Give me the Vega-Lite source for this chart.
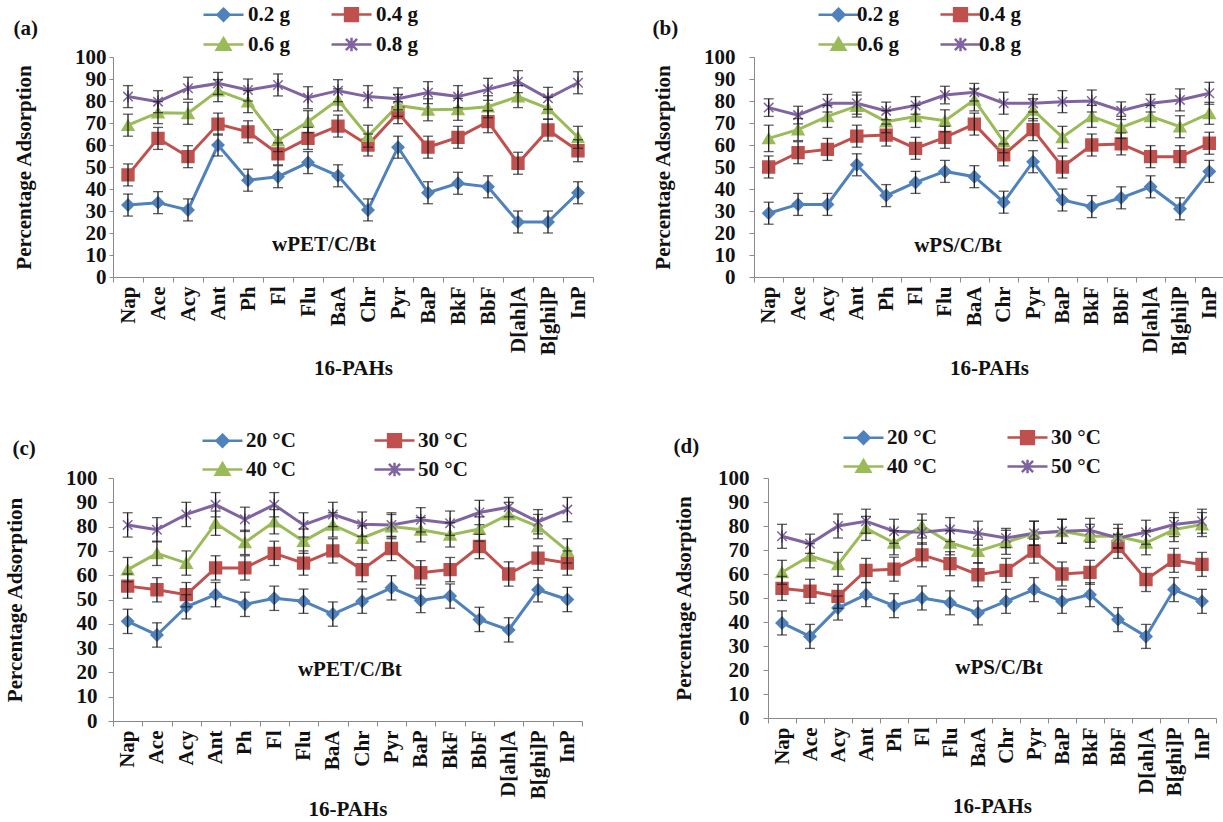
{
  "$schema": "https://vega.github.io/schema/vega-lite/v6.json",
  "padding": {"left": 4, "top": 4, "right": 0, "bottom": 0},
  "config": {
    "view": {"stroke": null},
    "axis": {"domainColor": "#8a8a8a", "tickColor": "#8a8a8a", "grid": false, "labelFont": "Liberation Serif", "labelFontWeight": "bold", "labelFontSize": 21, "labelColor": "#111", "titleFont": "Liberation Serif", "titleFontWeight": "bold", "titleFontSize": 21, "titleColor": "#111", "labelOverlap": false},
    "title": {"font": "Liberation Serif", "fontWeight": "bold", "fontSize": 21, "color": "#111", "anchor": "start", "frame": "bounds"},
    "legend": {"labelFont": "Liberation Serif", "labelFontWeight": "bold", "labelFontSize": 21, "labelColor": "#111", "symbolSize": 256, "symbolStrokeWidth": 2.5, "symbolOpacity": 1, "padding": 0}
  },
  "datasets": {
    "a": [
      {"pah":"Nap","series":"0.2 g","value":32.7,"err":5},{"pah":"Ace","series":"0.2 g","value":33.8,"err":5},{"pah":"Acy","series":"0.2 g","value":30.5,"err":5},{"pah":"Ant","series":"0.2 g","value":60,"err":5},{"pah":"Ph","series":"0.2 g","value":44,"err":5},{"pah":"Fl","series":"0.2 g","value":45.6,"err":5},{"pah":"Flu","series":"0.2 g","value":52,"err":5},{"pah":"BaA","series":"0.2 g","value":46,"err":5},{"pah":"Chr","series":"0.2 g","value":30.5,"err":5},{"pah":"Pyr","series":"0.2 g","value":59,"err":5},{"pah":"BaP","series":"0.2 g","value":38.3,"err":5},{"pah":"BkF","series":"0.2 g","value":42.6,"err":5},{"pah":"BbF","series":"0.2 g","value":41,"err":5},{"pah":"D[ah]A","series":"0.2 g","value":25,"err":5},{"pah":"B[ghi]P","series":"0.2 g","value":25,"err":5},{"pah":"InP","series":"0.2 g","value":38.3,"err":5},
      {"pah":"Nap","series":"0.4 g","value":46.4,"err":5},{"pah":"Ace","series":"0.4 g","value":63,"err":5},{"pah":"Acy","series":"0.4 g","value":54.7,"err":5},{"pah":"Ant","series":"0.4 g","value":69.5,"err":5},{"pah":"Ph","series":"0.4 g","value":66,"err":5},{"pah":"Fl","series":"0.4 g","value":56,"err":5},{"pah":"Flu","series":"0.4 g","value":63,"err":5},{"pah":"BaA","series":"0.4 g","value":68.6,"err":5},{"pah":"Chr","series":"0.4 g","value":60,"err":5},{"pah":"Pyr","series":"0.4 g","value":74.7,"err":5},{"pah":"BaP","series":"0.4 g","value":59,"err":5},{"pah":"BkF","series":"0.4 g","value":63.5,"err":5},{"pah":"BbF","series":"0.4 g","value":70.6,"err":5},{"pah":"D[ah]A","series":"0.4 g","value":51.7,"err":5},{"pah":"B[ghi]P","series":"0.4 g","value":66.8,"err":5},{"pah":"InP","series":"0.4 g","value":57.4,"err":5},
      {"pah":"Nap","series":"0.6 g","value":69,"err":5},{"pah":"Ace","series":"0.6 g","value":74.7,"err":5},{"pah":"Acy","series":"0.6 g","value":74.4,"err":5},{"pah":"Ant","series":"0.6 g","value":84.7,"err":5},{"pah":"Ph","series":"0.6 g","value":79.7,"err":5},{"pah":"Fl","series":"0.6 g","value":62,"err":5},{"pah":"Flu","series":"0.6 g","value":70.6,"err":5},{"pah":"BaA","series":"0.6 g","value":80.5,"err":5},{"pah":"Chr","series":"0.6 g","value":64,"err":5},{"pah":"Pyr","series":"0.6 g","value":78,"err":5},{"pah":"BaP","series":"0.6 g","value":76,"err":5},{"pah":"BkF","series":"0.6 g","value":76.2,"err":5},{"pah":"BbF","series":"0.6 g","value":77.4,"err":5},{"pah":"D[ah]A","series":"0.6 g","value":82,"err":5},{"pah":"B[ghi]P","series":"0.6 g","value":76.7,"err":5},{"pah":"InP","series":"0.6 g","value":63.5,"err":5},
      {"pah":"Nap","series":"0.8 g","value":82,"err":5},{"pah":"Ace","series":"0.8 g","value":79.7,"err":5},{"pah":"Acy","series":"0.8 g","value":85.8,"err":5},{"pah":"Ant","series":"0.8 g","value":88,"err":5},{"pah":"Ph","series":"0.8 g","value":85,"err":5},{"pah":"Fl","series":"0.8 g","value":87.3,"err":5},{"pah":"Flu","series":"0.8 g","value":81.5,"err":5},{"pah":"BaA","series":"0.8 g","value":84.7,"err":5},{"pah":"Chr","series":"0.8 g","value":82,"err":5},{"pah":"Pyr","series":"0.8 g","value":81,"err":5},{"pah":"BaP","series":"0.8 g","value":83.8,"err":5},{"pah":"BkF","series":"0.8 g","value":82,"err":5},{"pah":"BbF","series":"0.8 g","value":85.3,"err":5},{"pah":"D[ah]A","series":"0.8 g","value":88.8,"err":5},{"pah":"B[ghi]P","series":"0.8 g","value":81.2,"err":5},{"pah":"InP","series":"0.8 g","value":88.3,"err":5}
    ],
    "b": [
      {"pah":"Nap","series":"0.2 g","value":29,"err":5},{"pah":"Ace","series":"0.2 g","value":33,"err":5},{"pah":"Acy","series":"0.2 g","value":33,"err":5},{"pah":"Ant","series":"0.2 g","value":51,"err":5},{"pah":"Ph","series":"0.2 g","value":37,"err":5},{"pah":"Fl","series":"0.2 g","value":43,"err":5},{"pah":"Flu","series":"0.2 g","value":48,"err":5},{"pah":"BaA","series":"0.2 g","value":45.6,"err":5},{"pah":"Chr","series":"0.2 g","value":34,"err":5},{"pah":"Pyr","series":"0.2 g","value":52.4,"err":5},{"pah":"BaP","series":"0.2 g","value":35,"err":5},{"pah":"BkF","series":"0.2 g","value":32,"err":5},{"pah":"BbF","series":"0.2 g","value":36,"err":5},{"pah":"D[ah]A","series":"0.2 g","value":41,"err":5},{"pah":"B[ghi]P","series":"0.2 g","value":31,"err":5},{"pah":"InP","series":"0.2 g","value":48,"err":5},
      {"pah":"Nap","series":"0.4 g","value":50,"err":5},{"pah":"Ace","series":"0.4 g","value":56.5,"err":5},{"pah":"Acy","series":"0.4 g","value":58,"err":5},{"pah":"Ant","series":"0.4 g","value":64,"err":5},{"pah":"Ph","series":"0.4 g","value":64.5,"err":5},{"pah":"Fl","series":"0.4 g","value":58.5,"err":5},{"pah":"Flu","series":"0.4 g","value":63.5,"err":5},{"pah":"BaA","series":"0.4 g","value":69.5,"err":5},{"pah":"Chr","series":"0.4 g","value":55.5,"err":5},{"pah":"Pyr","series":"0.4 g","value":67,"err":5},{"pah":"BaP","series":"0.4 g","value":50,"err":5},{"pah":"BkF","series":"0.4 g","value":60,"err":5},{"pah":"BbF","series":"0.4 g","value":60.5,"err":5},{"pah":"D[ah]A","series":"0.4 g","value":54.7,"err":5},{"pah":"B[ghi]P","series":"0.4 g","value":54.7,"err":5},{"pah":"InP","series":"0.4 g","value":60.8,"err":5},
      {"pah":"Nap","series":"0.6 g","value":63,"err":6},{"pah":"Ace","series":"0.6 g","value":67,"err":5},{"pah":"Acy","series":"0.6 g","value":73,"err":5},{"pah":"Ant","series":"0.6 g","value":77.7,"err":5},{"pah":"Ph","series":"0.6 g","value":70.6,"err":5},{"pah":"Fl","series":"0.6 g","value":73,"err":5},{"pah":"Flu","series":"0.6 g","value":71,"err":5},{"pah":"BaA","series":"0.6 g","value":80.5,"err":5},{"pah":"Chr","series":"0.6 g","value":61.5,"err":5},{"pah":"Pyr","series":"0.6 g","value":76,"err":5},{"pah":"BaP","series":"0.6 g","value":63.5,"err":5},{"pah":"BkF","series":"0.6 g","value":73,"err":5},{"pah":"BbF","series":"0.6 g","value":68,"err":5},{"pah":"D[ah]A","series":"0.6 g","value":73,"err":5},{"pah":"B[ghi]P","series":"0.6 g","value":68.3,"err":5},{"pah":"InP","series":"0.6 g","value":74.4,"err":5},
      {"pah":"Nap","series":"0.8 g","value":77,"err":4},{"pah":"Ace","series":"0.8 g","value":73.6,"err":4},{"pah":"Acy","series":"0.8 g","value":79,"err":4},{"pah":"Ant","series":"0.8 g","value":79,"err":5},{"pah":"Ph","series":"0.8 g","value":75.5,"err":4},{"pah":"Fl","series":"0.8 g","value":78,"err":4},{"pah":"Flu","series":"0.8 g","value":82.7,"err":4},{"pah":"BaA","series":"0.8 g","value":84,"err":4},{"pah":"Chr","series":"0.8 g","value":79,"err":5},{"pah":"Pyr","series":"0.8 g","value":79,"err":4},{"pah":"BaP","series":"0.8 g","value":79.7,"err":5},{"pah":"BkF","series":"0.8 g","value":80,"err":5},{"pah":"BbF","series":"0.8 g","value":75.6,"err":4},{"pah":"D[ah]A","series":"0.8 g","value":79,"err":4},{"pah":"B[ghi]P","series":"0.8 g","value":80.5,"err":5},{"pah":"InP","series":"0.8 g","value":83.5,"err":5}
    ],
    "c": [
      {"pah":"Nap","series":"20 °C","value":41,"err":5},{"pah":"Ace","series":"20 °C","value":35.4,"err":5},{"pah":"Acy","series":"20 °C","value":47,"err":5},{"pah":"Ant","series":"20 °C","value":52,"err":5},{"pah":"Ph","series":"20 °C","value":48,"err":5},{"pah":"Fl","series":"20 °C","value":50.5,"err":5},{"pah":"Flu","series":"20 °C","value":49.3,"err":5},{"pah":"BaA","series":"20 °C","value":44,"err":5},{"pah":"Chr","series":"20 °C","value":49.3,"err":5},{"pah":"Pyr","series":"20 °C","value":54.8,"err":5},{"pah":"BaP","series":"20 °C","value":49.6,"err":5},{"pah":"BkF","series":"20 °C","value":51.4,"err":5},{"pah":"BbF","series":"20 °C","value":41.8,"err":5},{"pah":"D[ah]A","series":"20 °C","value":37.5,"err":5},{"pah":"B[ghi]P","series":"20 °C","value":54,"err":5},{"pah":"InP","series":"20 °C","value":50,"err":5},
      {"pah":"Nap","series":"30 °C","value":55.5,"err":5},{"pah":"Ace","series":"30 °C","value":54,"err":5},{"pah":"Acy","series":"30 °C","value":52,"err":5},{"pah":"Ant","series":"30 °C","value":63,"err":5},{"pah":"Ph","series":"30 °C","value":63,"err":5},{"pah":"Fl","series":"30 °C","value":69,"err":5},{"pah":"Flu","series":"30 °C","value":65,"err":5},{"pah":"BaA","series":"30 °C","value":70,"err":5},{"pah":"Chr","series":"30 °C","value":62.3,"err":5},{"pah":"Pyr","series":"30 °C","value":71,"err":5},{"pah":"BaP","series":"30 °C","value":61,"err":5},{"pah":"BkF","series":"30 °C","value":62.3,"err":5},{"pah":"BbF","series":"30 °C","value":71.8,"err":5},{"pah":"D[ah]A","series":"30 °C","value":60.5,"err":5},{"pah":"B[ghi]P","series":"30 °C","value":67,"err":5},{"pah":"InP","series":"30 °C","value":65,"err":5},
      {"pah":"Nap","series":"40 °C","value":62.3,"err":5},{"pah":"Ace","series":"40 °C","value":69,"err":5},{"pah":"Acy","series":"40 °C","value":65,"err":5},{"pah":"Ant","series":"40 °C","value":81.4,"err":5},{"pah":"Ph","series":"40 °C","value":73.5,"err":5},{"pah":"Fl","series":"40 °C","value":82,"err":5},{"pah":"Flu","series":"40 °C","value":74,"err":5},{"pah":"BaA","series":"40 °C","value":80.7,"err":5},{"pah":"Chr","series":"40 °C","value":75.3,"err":5},{"pah":"Pyr","series":"40 °C","value":80,"err":5},{"pah":"BaP","series":"40 °C","value":78.7,"err":5},{"pah":"BkF","series":"40 °C","value":76.6,"err":5},{"pah":"BbF","series":"40 °C","value":79,"err":5},{"pah":"D[ah]A","series":"40 °C","value":85,"err":5},{"pah":"B[ghi]P","series":"40 °C","value":80,"err":5},{"pah":"InP","series":"40 °C","value":70,"err":5},
      {"pah":"Nap","series":"50 °C","value":80.7,"err":5},{"pah":"Ace","series":"50 °C","value":78.7,"err":5},{"pah":"Acy","series":"50 °C","value":85,"err":5},{"pah":"Ant","series":"50 °C","value":89,"err":5},{"pah":"Ph","series":"50 °C","value":83,"err":5},{"pah":"Fl","series":"50 °C","value":89,"err":5},{"pah":"Flu","series":"50 °C","value":80.7,"err":5},{"pah":"BaA","series":"50 °C","value":85,"err":5},{"pah":"Chr","series":"50 °C","value":81,"err":5},{"pah":"Pyr","series":"50 °C","value":80.7,"err":5},{"pah":"BaP","series":"50 °C","value":82.8,"err":5},{"pah":"BkF","series":"50 °C","value":81.4,"err":5},{"pah":"BbF","series":"50 °C","value":85.8,"err":5},{"pah":"D[ah]A","series":"50 °C","value":88,"err":4},{"pah":"B[ghi]P","series":"50 °C","value":82,"err":5},{"pah":"InP","series":"50 °C","value":87,"err":5}
    ],
    "d": [
      {"pah":"Nap","series":"20 °C","value":39.6,"err":5},{"pah":"Ace","series":"20 °C","value":34,"err":5},{"pah":"Acy","series":"20 °C","value":45.8,"err":5},{"pah":"Ant","series":"20 °C","value":51.4,"err":5},{"pah":"Ph","series":"20 °C","value":46.8,"err":5},{"pah":"Fl","series":"20 °C","value":50,"err":5},{"pah":"Flu","series":"20 °C","value":48,"err":5},{"pah":"BaA","series":"20 °C","value":43.8,"err":5},{"pah":"Chr","series":"20 °C","value":48.6,"err":5},{"pah":"Pyr","series":"20 °C","value":53.5,"err":5},{"pah":"BaP","series":"20 °C","value":48.6,"err":5},{"pah":"BkF","series":"20 °C","value":51.4,"err":5},{"pah":"BbF","series":"20 °C","value":41,"err":5},{"pah":"D[ah]A","series":"20 °C","value":34,"err":5},{"pah":"B[ghi]P","series":"20 °C","value":53.5,"err":5},{"pah":"InP","series":"20 °C","value":48.6,"err":5},
      {"pah":"Nap","series":"30 °C","value":54,"err":5},{"pah":"Ace","series":"30 °C","value":52.8,"err":5},{"pah":"Acy","series":"30 °C","value":50.7,"err":5},{"pah":"Ant","series":"30 °C","value":61.5,"err":5},{"pah":"Ph","series":"30 °C","value":62,"err":5},{"pah":"Fl","series":"30 °C","value":68,"err":5},{"pah":"Flu","series":"30 °C","value":64.3,"err":5},{"pah":"BaA","series":"30 °C","value":59.7,"err":5},{"pah":"Chr","series":"30 °C","value":61.5,"err":5},{"pah":"Pyr","series":"30 °C","value":69.5,"err":5},{"pah":"BaP","series":"30 °C","value":60,"err":5},{"pah":"BkF","series":"30 °C","value":60.7,"err":5},{"pah":"BbF","series":"30 °C","value":71.5,"err":5},{"pah":"D[ah]A","series":"30 °C","value":57.7,"err":5},{"pah":"B[ghi]P","series":"30 °C","value":65.7,"err":5},{"pah":"InP","series":"30 °C","value":64,"err":5},
      {"pah":"Nap","series":"40 °C","value":60.7,"err":5},{"pah":"Ace","series":"40 °C","value":67.6,"err":5},{"pah":"Acy","series":"40 °C","value":64,"err":5},{"pah":"Ant","series":"40 °C","value":79,"err":5},{"pah":"Ph","series":"40 °C","value":73,"err":5},{"pah":"Fl","series":"40 °C","value":80,"err":5},{"pah":"Flu","series":"40 °C","value":73,"err":5},{"pah":"BaA","series":"40 °C","value":69.5,"err":5},{"pah":"Chr","series":"40 °C","value":73.2,"err":5},{"pah":"Pyr","series":"40 °C","value":77,"err":5},{"pah":"BaP","series":"40 °C","value":77.8,"err":5},{"pah":"BkF","series":"40 °C","value":75.7,"err":5},{"pah":"BbF","series":"40 °C","value":75.7,"err":5},{"pah":"D[ah]A","series":"40 °C","value":73,"err":5},{"pah":"B[ghi]P","series":"40 °C","value":78.5,"err":5},{"pah":"InP","series":"40 °C","value":80.6,"err":5},
      {"pah":"Nap","series":"50 °C","value":75.7,"err":5},{"pah":"Ace","series":"50 °C","value":72.6,"err":4},{"pah":"Acy","series":"50 °C","value":80,"err":5},{"pah":"Ant","series":"50 °C","value":82,"err":5},{"pah":"Ph","series":"50 °C","value":77.8,"err":5},{"pah":"Fl","series":"50 °C","value":77.4,"err":5},{"pah":"Flu","series":"50 °C","value":78.5,"err":5},{"pah":"BaA","series":"50 °C","value":77,"err":5},{"pah":"Chr","series":"50 °C","value":75,"err":4},{"pah":"Pyr","series":"50 °C","value":77,"err":5},{"pah":"BaP","series":"50 °C","value":77.8,"err":5},{"pah":"BkF","series":"50 °C","value":78.2,"err":5},{"pah":"BbF","series":"50 °C","value":75,"err":4},{"pah":"D[ah]A","series":"50 °C","value":77.4,"err":5},{"pah":"B[ghi]P","series":"50 °C","value":80.6,"err":5},{"pah":"InP","series":"50 °C","value":82,"err":5}
    ]
  },
  "resolve": {"scale": {"color": "independent", "shape": "independent", "stroke": "independent"}, "legend": {"color": "independent", "shape": "independent", "stroke": "independent"}},
  "spacing": 48,
  "vconcat": [
    {
      "spacing": 58,
      "resolve": {"scale": {"color": "independent", "shape": "independent", "stroke": "independent"}, "legend": {"color": "independent", "shape": "independent", "stroke": "independent"}},
      "hconcat": [
        {
          "width": 480, "height": 220,
          "title": {"text": "(a)", "dy": 39},
          "data": {"name": "a"},
          "resolve": {"scale": {"color": "independent", "shape": "independent", "stroke": "independent"}, "legend": {"color": "independent", "shape": "independent", "stroke": "independent"}},
          "encoding": {
            "x": {"field": "pah", "type": "nominal", "scale": {"type": "band", "domain": ["Nap","Ace","Acy","Ant","Ph","Fl","Flu","BaA","Chr","Pyr","BaP","BkF","BbF","D[ah]A","B[ghi]P","InP"], "paddingInner": 0, "paddingOuter": 0}, "axis": {"title": "16-PAHs", "labelAngle": 270, "tickBand": "extent", "labelPadding": 4, "tickSize": 5, "titlePadding": 3}},
            "y": {"field": "value", "type": "quantitative", "scale": {"domain": [0, 100], "nice": false}, "axis": {"title": "Percentage Adsorption", "values": [0,10,20,30,40,50,60,70,80,90,100], "tickSize": 4, "labelPadding": 3, "titlePadding": 40}}
          },
          "layer": [
            {
              "mark": {"type": "line", "strokeWidth": 3},
              "encoding": {
                "order": {"value": null},
                "color": {"field": "series", "type": "nominal", "scale": {"domain": ["0.2 g","0.4 g","0.6 g","0.8 g"], "range": ["#4F81BD","#C0504D","#9BBB59","#8064A2"]}, "legend": null}
              }
            },
            {
              "mark": {"type": "point", "filled": true, "opacity": 1, "size": 140, "strokeWidth": 1.5},
              "encoding": {
                "color": {"field": "series", "type": "nominal", "scale": {"domain": ["0.2 g","0.4 g","0.6 g","0.8 g"], "range": ["#4F81BD","#C0504D","#9BBB59","#8064A2"]}, "legend": null},
                "shape": {"field": "series", "type": "nominal", "scale": {"domain": ["0.2 g","0.4 g","0.6 g","0.8 g"], "range": ["diamond","square","triangle-up","M-0.8,-0.8L0.8,0.8M-0.8,0.8L0.8,-0.8M0,-1L0,1"]}, "legend": null},
                "stroke": {"field": "series", "type": "nominal", "scale": {"domain": ["0.2 g","0.4 g","0.6 g","0.8 g"], "range": ["#4F81BD","#C0504D","#9BBB59","#8064A2"]}, "legend": null}
              }
            },
            {
              "mark": {"type": "errorbar", "color": "#1a1a1a", "thickness": 1.3, "ticks": {"size": 10, "thickness": 1.3, "color": "#1a1a1a"}},
              "encoding": {"yError": {"field": "err"}}
            },
            {
              "data": {"values": [{"pah": "Flu", "value": 14.5, "label": "wPET/C/Bt"}]},
              "mark": {"type": "text", "dx": 16, "font": "Liberation Serif", "fontWeight": "bold", "fontSize": 21, "color": "#111"},
              "encoding": {"text": {"field": "label"}}
            },
            {
              "data": {"values": []},
              "mark": {"type": "point", "filled": true, "opacity": 1},
              "encoding": {
                "color": {"field": "series", "type": "nominal", "scale": {"domain": ["0.2 g","0.4 g","0.6 g","0.8 g"], "range": ["#4F81BD","#C0504D","#9BBB59","#8064A2"]}, "legend": {"title": null, "orient": "none", "legendX": 100, "legendY": -53, "direction": "horizontal", "columns": 2, "columnPadding": 36, "rowPadding": 6, "labelOffset": 14}},
                "shape": {"field": "series", "type": "nominal", "scale": {"domain": ["0.2 g","0.4 g","0.6 g","0.8 g"], "range": ["M-2.5,0H2.5M0,-0.75L0.75,0L0,0.75L-0.75,0Z","M-2.5,0H2.5M-0.8,-0.8H0.8V0.8H-0.8Z","M-2.5,0H2.5M0,-0.8L0.85,0.65L-0.85,0.65Z","M-2.5,0H2.5M-0.7,-0.7L0.7,0.7M-0.7,0.7L0.7,-0.7M0,-0.85V0.85"]}},
                "stroke": {"field": "series", "type": "nominal", "scale": {"domain": ["0.2 g","0.4 g","0.6 g","0.8 g"], "range": ["#4F81BD","#C0504D","#9BBB59","#8064A2"]}}
              }
            }
          ]
        },
        {
          "width": 470, "height": 220,
          "title": {"text": "(b)", "dy": 39},
          "data": {"name": "b"},
          "resolve": {"scale": {"color": "independent", "shape": "independent", "stroke": "independent"}, "legend": {"color": "independent", "shape": "independent", "stroke": "independent"}},
          "encoding": {
            "x": {"field": "pah", "type": "nominal", "scale": {"type": "band", "domain": ["Nap","Ace","Acy","Ant","Ph","Fl","Flu","BaA","Chr","Pyr","BaP","BkF","BbF","D[ah]A","B[ghi]P","InP"], "paddingInner": 0, "paddingOuter": 0}, "axis": {"title": "16-PAHs", "labelAngle": 270, "tickBand": "extent", "labelPadding": 4, "tickSize": 5, "titlePadding": 3}},
            "y": {"field": "value", "type": "quantitative", "scale": {"domain": [0, 100], "nice": false}, "axis": {"title": "Percentage Adsorption", "values": [0,10,20,30,40,50,60,70,80,90,100], "tickSize": 5, "labelPadding": 14, "titlePadding": 30}}
          },
          "layer": [
            {
              "mark": {"type": "line", "strokeWidth": 3},
              "encoding": {
                "order": {"value": null},
                "color": {"field": "series", "type": "nominal", "scale": {"domain": ["0.2 g","0.4 g","0.6 g","0.8 g"], "range": ["#4F81BD","#C0504D","#9BBB59","#8064A2"]}, "legend": null}
              }
            },
            {
              "mark": {"type": "point", "filled": true, "opacity": 1, "size": 140, "strokeWidth": 1.5},
              "encoding": {
                "color": {"field": "series", "type": "nominal", "scale": {"domain": ["0.2 g","0.4 g","0.6 g","0.8 g"], "range": ["#4F81BD","#C0504D","#9BBB59","#8064A2"]}, "legend": null},
                "shape": {"field": "series", "type": "nominal", "scale": {"domain": ["0.2 g","0.4 g","0.6 g","0.8 g"], "range": ["diamond","square","triangle-up","M-0.8,-0.8L0.8,0.8M-0.8,0.8L0.8,-0.8M0,-1L0,1"]}, "legend": null},
                "stroke": {"field": "series", "type": "nominal", "scale": {"domain": ["0.2 g","0.4 g","0.6 g","0.8 g"], "range": ["#4F81BD","#C0504D","#9BBB59","#8064A2"]}, "legend": null}
              }
            },
            {
              "mark": {"type": "errorbar", "color": "#1a1a1a", "thickness": 1.3, "ticks": {"size": 10, "thickness": 1.3, "color": "#1a1a1a"}},
              "encoding": {"yError": {"field": "err"}}
            },
            {
              "data": {"values": [{"pah": "Flu", "value": 14, "label": "wPS/C/Bt"}]},
              "mark": {"type": "text", "dx": 13, "font": "Liberation Serif", "fontWeight": "bold", "fontSize": 21, "color": "#111"},
              "encoding": {"text": {"field": "label"}}
            },
            {
              "data": {"values": []},
              "mark": {"type": "point", "filled": true, "opacity": 1},
              "encoding": {
                "color": {"field": "series", "type": "nominal", "scale": {"domain": ["0.2 g","0.4 g","0.6 g","0.8 g"], "range": ["#4F81BD","#C0504D","#9BBB59","#8064A2"]}, "legend": {"title": null, "orient": "none", "legendX": 74, "legendY": -53, "direction": "horizontal", "columns": 2, "columnPadding": 36, "rowPadding": 6, "labelOffset": 8}},
                "shape": {"field": "series", "type": "nominal", "scale": {"domain": ["0.2 g","0.4 g","0.6 g","0.8 g"], "range": ["M-2.5,0H2.5M0,-0.75L0.75,0L0,0.75L-0.75,0Z","M-2.5,0H2.5M-0.8,-0.8H0.8V0.8H-0.8Z","M-2.5,0H2.5M0,-0.8L0.85,0.65L-0.85,0.65Z","M-2.5,0H2.5M-0.7,-0.7L0.7,0.7M-0.7,0.7L0.7,-0.7M0,-0.85V0.85"]}},
                "stroke": {"field": "series", "type": "nominal", "scale": {"domain": ["0.2 g","0.4 g","0.6 g","0.8 g"], "range": ["#4F81BD","#C0504D","#9BBB59","#8064A2"]}}
              }
            }
          ]
        }
      ]
    },
    {
      "spacing": 90,
      "resolve": {"scale": {"color": "independent", "shape": "independent", "stroke": "independent"}, "legend": {"color": "independent", "shape": "independent", "stroke": "independent"}},
      "hconcat": [
        {
          "width": 469, "height": 243,
          "title": {"text": "(c)", "dy": 33, "dx": 8},
          "data": {"name": "c"},
          "resolve": {"scale": {"color": "independent", "shape": "independent", "stroke": "independent"}, "legend": {"color": "independent", "shape": "independent", "stroke": "independent"}},
          "encoding": {
            "x": {"field": "pah", "type": "nominal", "scale": {"type": "band", "domain": ["Nap","Ace","Acy","Ant","Ph","Fl","Flu","BaA","Chr","Pyr","BaP","BkF","BbF","D[ah]A","B[ghi]P","InP"], "paddingInner": 0, "paddingOuter": 0}, "axis": {"title": "16-PAHs", "labelAngle": 270, "tickBand": "extent", "labelPadding": 4, "tickSize": 5, "titlePadding": 0}},
            "y": {"field": "value", "type": "quantitative", "scale": {"domain": [0, 100], "nice": false}, "axis": {"title": "Percentage Adsorption", "values": [0,10,20,30,40,50,60,70,80,90,100], "tickSize": 5, "labelPadding": 11, "titlePadding": 40}}
          },
          "layer": [
            {
              "mark": {"type": "line", "strokeWidth": 3},
              "encoding": {
                "order": {"value": null},
                "color": {"field": "series", "type": "nominal", "scale": {"domain": ["20 °C","30 °C","40 °C","50 °C"], "range": ["#4F81BD","#C0504D","#9BBB59","#8064A2"]}, "legend": null}
              }
            },
            {
              "mark": {"type": "point", "filled": true, "opacity": 1, "size": 140, "strokeWidth": 1.5},
              "encoding": {
                "color": {"field": "series", "type": "nominal", "scale": {"domain": ["20 °C","30 °C","40 °C","50 °C"], "range": ["#4F81BD","#C0504D","#9BBB59","#8064A2"]}, "legend": null},
                "shape": {"field": "series", "type": "nominal", "scale": {"domain": ["20 °C","30 °C","40 °C","50 °C"], "range": ["diamond","square","triangle-up","M-0.8,-0.8L0.8,0.8M-0.8,0.8L0.8,-0.8M0,-1L0,1"]}, "legend": null},
                "stroke": {"field": "series", "type": "nominal", "scale": {"domain": ["20 °C","30 °C","40 °C","50 °C"], "range": ["#4F81BD","#C0504D","#9BBB59","#8064A2"]}, "legend": null}
              }
            },
            {
              "mark": {"type": "errorbar", "color": "#1a1a1a", "thickness": 1.3, "ticks": {"size": 10, "thickness": 1.3, "color": "#1a1a1a"}},
              "encoding": {"yError": {"field": "err"}}
            },
            {
              "data": {"values": [{"pah": "BaA", "value": 21, "label": "wPET/C/Bt"}]},
              "mark": {"type": "text", "dx": 17, "font": "Liberation Serif", "fontWeight": "bold", "fontSize": 21, "color": "#111"},
              "encoding": {"text": {"field": "label"}}
            },
            {
              "data": {"values": []},
              "mark": {"type": "point", "filled": true, "opacity": 1},
              "encoding": {
                "color": {"field": "series", "type": "nominal", "scale": {"domain": ["20 °C","30 °C","40 °C","50 °C"], "range": ["#4F81BD","#C0504D","#9BBB59","#8064A2"]}, "legend": {"title": null, "orient": "none", "legendX": 99, "legendY": -48, "direction": "horizontal", "columns": 2, "columnPadding": 73, "rowPadding": 5, "labelOffset": 13}},
                "shape": {"field": "series", "type": "nominal", "scale": {"domain": ["20 °C","30 °C","40 °C","50 °C"], "range": ["M-2.5,0H2.5M0,-0.75L0.75,0L0,0.75L-0.75,0Z","M-2.5,0H2.5M-0.8,-0.8H0.8V0.8H-0.8Z","M-2.5,0H2.5M0,-0.8L0.85,0.65L-0.85,0.65Z","M-2.5,0H2.5M-0.7,-0.7L0.7,0.7M-0.7,0.7L0.7,-0.7M0,-0.85V0.85"]}},
                "stroke": {"field": "series", "type": "nominal", "scale": {"domain": ["20 °C","30 °C","40 °C","50 °C"], "range": ["#4F81BD","#C0504D","#9BBB59","#8064A2"]}}
              }
            }
          ]
        },
        {
          "width": 448, "height": 240,
          "title": {"text": "(d)", "dy": 34},
          "data": {"name": "d"},
          "resolve": {"scale": {"color": "independent", "shape": "independent", "stroke": "independent"}, "legend": {"color": "independent", "shape": "independent", "stroke": "independent"}},
          "encoding": {
            "x": {"field": "pah", "type": "nominal", "scale": {"type": "band", "domain": ["Nap","Ace","Acy","Ant","Ph","Fl","Flu","BaA","Chr","Pyr","BaP","BkF","BbF","D[ah]A","B[ghi]P","InP"], "paddingInner": 0, "paddingOuter": 0}, "axis": {"title": "16-PAHs", "labelAngle": 270, "tickBand": "extent", "labelPadding": 4, "tickSize": 5, "titlePadding": 0}},
            "y": {"field": "value", "type": "quantitative", "scale": {"domain": [0, 100], "nice": false}, "axis": {"title": "Percentage Adsorption", "values": [0,10,20,30,40,50,60,70,80,90,100], "tickSize": 5, "labelPadding": 14, "titlePadding": 23}}
          },
          "layer": [
            {
              "mark": {"type": "line", "strokeWidth": 3},
              "encoding": {
                "order": {"value": null},
                "color": {"field": "series", "type": "nominal", "scale": {"domain": ["20 °C","30 °C","40 °C","50 °C"], "range": ["#4F81BD","#C0504D","#9BBB59","#8064A2"]}, "legend": null}
              }
            },
            {
              "mark": {"type": "point", "filled": true, "opacity": 1, "size": 140, "strokeWidth": 1.5},
              "encoding": {
                "color": {"field": "series", "type": "nominal", "scale": {"domain": ["20 °C","30 °C","40 °C","50 °C"], "range": ["#4F81BD","#C0504D","#9BBB59","#8064A2"]}, "legend": null},
                "shape": {"field": "series", "type": "nominal", "scale": {"domain": ["20 °C","30 °C","40 °C","50 °C"], "range": ["diamond","square","triangle-up","M-0.8,-0.8L0.8,0.8M-0.8,0.8L0.8,-0.8M0,-1L0,1"]}, "legend": null},
                "stroke": {"field": "series", "type": "nominal", "scale": {"domain": ["20 °C","30 °C","40 °C","50 °C"], "range": ["#4F81BD","#C0504D","#9BBB59","#8064A2"]}, "legend": null}
              }
            },
            {
              "mark": {"type": "errorbar", "color": "#1a1a1a", "thickness": 1.3, "ticks": {"size": 10, "thickness": 1.3, "color": "#1a1a1a"}},
              "encoding": {"yError": {"field": "err"}}
            },
            {
              "data": {"values": [{"pah": "BaA", "value": 21, "label": "wPS/C/Bt"}]},
              "mark": {"type": "text", "dx": 21, "font": "Liberation Serif", "fontWeight": "bold", "fontSize": 21, "color": "#111"},
              "encoding": {"text": {"field": "label"}}
            },
            {
              "data": {"values": []},
              "mark": {"type": "point", "filled": true, "opacity": 1},
              "encoding": {
                "color": {"field": "series", "type": "nominal", "scale": {"domain": ["20 °C","30 °C","40 °C","50 °C"], "range": ["#4F81BD","#C0504D","#9BBB59","#8064A2"]}, "legend": {"title": null, "orient": "none", "legendX": 85, "legendY": -51, "direction": "horizontal", "columns": 2, "columnPadding": 65, "rowPadding": 5, "labelOffset": 13}},
                "shape": {"field": "series", "type": "nominal", "scale": {"domain": ["20 °C","30 °C","40 °C","50 °C"], "range": ["M-2.5,0H2.5M0,-0.75L0.75,0L0,0.75L-0.75,0Z","M-2.5,0H2.5M-0.8,-0.8H0.8V0.8H-0.8Z","M-2.5,0H2.5M0,-0.8L0.85,0.65L-0.85,0.65Z","M-2.5,0H2.5M-0.7,-0.7L0.7,0.7M-0.7,0.7L0.7,-0.7M0,-0.85V0.85"]}},
                "stroke": {"field": "series", "type": "nominal", "scale": {"domain": ["20 °C","30 °C","40 °C","50 °C"], "range": ["#4F81BD","#C0504D","#9BBB59","#8064A2"]}}
              }
            }
          ]
        }
      ]
    }
  ]
}
